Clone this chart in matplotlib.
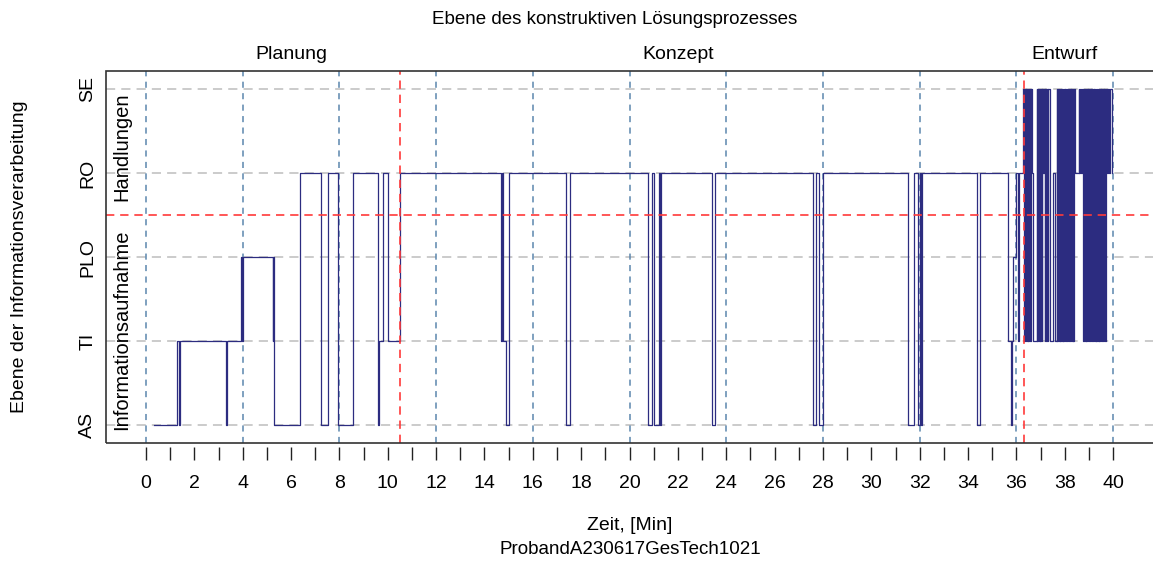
import matplotlib
matplotlib.use("Agg")
import matplotlib.pyplot as plt
from matplotlib.patches import Rectangle
from matplotlib.transforms import blended_transform_factory

# levels of information processing (bottom to top)
level_names = ["AS", "TI", "PLO", "RO", "SE"]

# time [min] at which a new level starts, and the level index (0=AS ... 4=SE)
switch_min = [
    0.34, 1.30, 1.35, 1.39, 3.31, 3.34, 3.93, 3.97, 4.00, 5.24, 5.27, 5.30,
    6.38, 7.24, 7.54, 7.96, 8.58, 9.58, 9.65, 9.82, 10.00, 10.50,
    14.68, 14.74, 14.78, 14.88, 15.02, 17.36, 17.54, 20.78, 20.92, 21.03,
    21.22, 21.26, 21.30, 23.40, 23.54, 27.58, 27.72, 27.85, 27.99,
    31.51, 31.78, 31.95, 32.02, 32.05, 32.08, 34.36, 34.50,
    35.67, 35.78, 35.82, 35.86, 35.99, 36.07, 36.12,
    # Entwurf
    36.29, 36.32, 36.35, 36.38, 36.41, 36.44, 36.47, 36.50, 36.53, 36.56,
    36.59, 36.64, 36.70, 36.84, 36.87, 36.90, 36.93, 36.96, 36.99, 37.02,
    37.05, 37.08, 37.11, 37.14, 37.17, 37.20, 37.23, 37.26, 37.29, 37.32,
    37.40, 37.53, 37.60, 37.67, 37.70, 37.73, 37.76, 37.79, 37.82, 37.85,
    37.88, 37.91, 37.94, 37.97, 38.00, 38.03, 38.06, 38.09, 38.12, 38.15,
    38.18, 38.21, 38.24, 38.27, 38.30, 38.33, 38.36, 38.40, 38.43, 38.57,
    38.61, 38.64, 38.68, 38.71, 38.74, 38.77, 38.80, 38.83, 38.86, 38.89,
    38.92, 38.95, 38.98, 39.01, 39.04, 39.07, 39.10, 39.13, 39.16, 39.19,
    39.22, 39.25, 39.28, 39.31, 39.34, 39.37, 39.40, 39.43, 39.46, 39.49,
    39.52, 39.55, 39.58, 39.61, 39.64, 39.67, 39.71, 39.75, 39.80, 39.85,
    39.88, 39.96,
]
state_idx = [
    0, 1, 0, 1, 0, 1, 2, 1, 2, 1, 2, 0,
    3, 0, 3, 0, 3, 0, 1, 3, 1, 3,
    1, 3, 1, 0, 3, 0, 3, 0, 3, 0,
    3, 0, 3, 0, 3, 0, 3, 0, 3,
    0, 3, 0, 3, 0, 3, 0, 3,
    1, 0, 1, 2, 3, 1, 3,
    # Entwurf
    4, 1, 4, 1, 4, 1, 4, 1, 4, 1,
    4, 3, 1, 4, 1, 4, 1, 4, 1, 4,
    1, 4, 3, 4, 1, 4, 1, 4, 1, 4,
    1, 3, 1, 4, 1, 4, 1, 4, 1, 4,
    1, 4, 1, 4, 1, 4, 1, 4, 1, 4,
    1, 4, 1, 4, 1, 4, 1, 4, 3, 4,
    3, 4, 3, 4, 3, 1, 4, 1, 4, 1,
    4, 1, 4, 1, 4, 1, 4, 1, 4, 1,
    4, 1, 4, 1, 4, 1, 4, 1, 4, 1,
    4, 1, 4, 1, 4, 1, 4, 3, 4, 3,
    4, 3,
]

# phases of the design process
phase_names = ["Planung", "Konzept", "Entwurf"]
phase_label_x = [6, 22, 38]
phase_bounds = [10.5, 36.3]
split_level = 2.5

W, H = 1153, 564
fig = plt.figure(figsize=(W / 100, H / 100), dpi=100)
plt.rcParams["font.family"] = ["Liberation Sans", "DejaVu Sans"]

# axes box in pixels: left 106, top 71, bottom 443, right runs past the image
x0, x1, ytop, ybot = 106, 1160, 71, 443
ax = fig.add_axes([x0 / W, 1 - ybot / H, (x1 - x0) / W, (ybot - ytop) / H])
ax.set_xlim(-1.655, 41.94)
ax.set_ylim(-0.214, 4.214)

for y in range(len(level_names)):
    ax.axhline(y, color="#bdbdbd", lw=1.1, dashes=(6, 4), zorder=1)
for x in range(0, 41, 4):
    ax.axvline(x, color="#5b86ad", lw=1.1, dashes=(4, 3.5), zorder=1)

ax.step(switch_min, state_idx, where="post", color="#2c2c80", lw=0.9, zorder=2)

for x in phase_bounds:
    ax.axvline(x, color="#ff3a3a", lw=1.2, dashes=(5, 3.5), zorder=4)
ax.axhline(split_level, color="#ff3a3a", lw=1.2, dashes=(5, 3.5), zorder=4)

# frame
for s in ax.spines.values():
    s.set_visible(False)
ax.add_patch(Rectangle((0, 0), 1, 1, transform=ax.transAxes, fill=False,
                       lw=1.2, edgecolor="#333333", clip_on=False, zorder=5))
ax.spines["bottom"].set_position(("outward", 3))

ax.set_xticks(range(0, 41, 2))
ax.set_xticks(range(1, 41, 2), minor=True)
ax.tick_params(axis="x", which="both", direction="out", length=9, width=1,
               color="#222222", labelsize=14, pad=11)
ax.set_yticks(range(len(level_names)))
ax.set_yticklabels(level_names, rotation=90, va="center", fontsize=14)
ax.tick_params(axis="y", length=0, pad=7)

ax.text(-1.0, 3.31, "Handlungen", rotation=90, ha="center", va="center",
        fontsize=14.5)
ax.text(-1.0, 1.13, "Informationsaufnahme", rotation=90, ha="center",
        va="center", fontsize=14.5)

phase_tr = blended_transform_factory(ax.transData, fig.transFigure)
for name, xp in zip(phase_names, phase_label_x):
    ax.text(xp, 1 - 55 / H, name, transform=phase_tr, ha="center",
            va="center", fontsize=14)
fig.text(615 / W, 1 - 20 / H, "Ebene des konstruktiven Lösungsprozesses",
         ha="center", va="center", fontsize=13.5)
fig.text(630 / W, 1 - 525 / H, "Zeit, [Min]", ha="center", va="center",
         fontsize=14)
fig.text(630 / W, 1 - 549 / H, "ProbandA230617GesTech1021", ha="center",
         va="center", fontsize=13.5)
fig.text(20 / W, 1 - 257 / H, "Ebene der Informationsverarbeitung",
         rotation=90, ha="center", va="center", fontsize=14)

fig.savefig("out.png", dpi=100)
